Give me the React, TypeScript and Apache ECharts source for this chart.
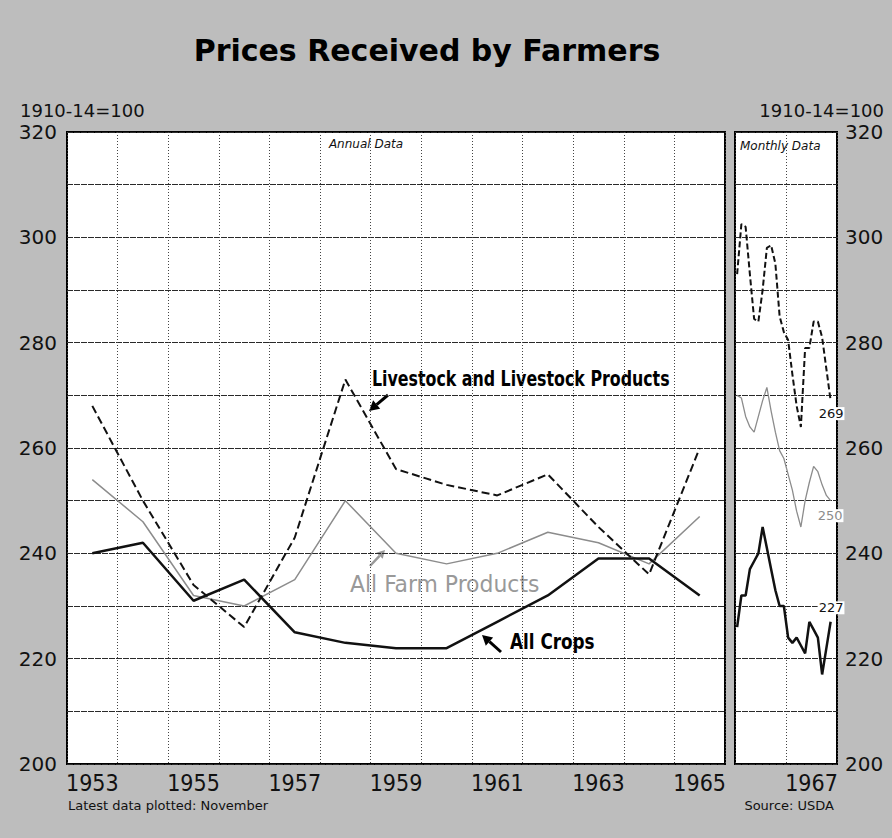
import React, { useEffect, useRef } from 'react';
import * as echarts from 'echarts';

// ---- data ----
const years = ['1953', '1954', '1955', '1956', '1957', '1958', '1959', '1960', '1961', '1962', '1963', '1964', '1965'];
const livestockAnnual = [268, 250, 234, 226, 243, 273, 256, 253, 251, 255, 245, 236, 260];
const farmAnnual = [254, 246, 232, 230, 235, 250, 240, 238, 240, 244, 242, 238, 247];
const cropsAnnual = [240, 242, 231, 235, 225, 223, 222, 222, 227, 232, 239, 239, 232];

const months = [
  '1966-01', '1966-02', '1966-03', '1966-04', '1966-05', '1966-06', '1966-07', '1966-08', '1966-09', '1966-10', '1966-11', '1966-12',
  '1967-01', '1967-02', '1967-03', '1967-04', '1967-05', '1967-06', '1967-07', '1967-08', '1967-09', '1967-10', '1967-11', '1967-12',
];
const monthYears = ['1966', '1967'];
const livestockMonthly = [293, 302.5, 302, 293, 284.5, 284, 290, 298, 298.5, 295, 285, 282, 280.5, 274, 268, 264, 279, 279, 284, 284, 281, 275, 269];
const farmMonthly = [270, 269.5, 266, 264, 263, 266, 269, 271.5, 267, 263, 259.5, 258, 255, 252, 248, 245, 250, 253.5, 256.5, 255.5, 253, 251, 250];
const cropsMonthly = [226, 232, 232, 237, 238.5, 240, 245, 241, 237, 233, 230, 230, 224, 223, 224, 222.5, 221, 227, 225.5, 224, 217, 222, 227];

const yMin = 200;
const yMax = 320;
const yStep = 10;

const TITLE = 'Prices Received by Farmers';
const BASE_NOTE = '1910-14=100';

const NARROW = '"Liberation Sans Narrow", "DejaVu Sans Condensed", "Roboto", sans-serif';
const SANS = '"DejaVu Sans", "Lato", sans-serif';

function arrow(tail: number[], tip: number[], color: string, width: number, head: number) {
  const dx = tip[0] - tail[0];
  const dy = tip[1] - tail[1];
  const len = Math.sqrt(dx * dx + dy * dy);
  const ux = dx / len;
  const uy = dy / len;
  const bx = tip[0] - ux * head;
  const by = tip[1] - uy * head;
  const px = -uy * head * 0.55;
  const py = ux * head * 0.55;
  return {
    type: 'group',
    children: [
      { type: 'line', shape: { x1: tail[0], y1: tail[1], x2: bx, y2: by }, style: { stroke: color, lineWidth: width } },
      { type: 'polygon', shape: { points: [tip, [bx + px, by + py], [bx - px, by - py]] }, style: { fill: color } },
    ],
  };
}

function endLabel(color: string, offset: number[]) {
  return {
    show: true, formatter: (p: any) => String(p.value), color, fontFamily: SANS, fontSize: 13, offset, distance: 0,
    backgroundColor: '#fff', padding: [0, 1],
  };
}

export default function App() {
  const ref = useRef<HTMLDivElement>(null);
  useEffect(() => {
    document.body.style.margin = '0';
    const chart = echarts.init(ref.current!, null, { renderer: 'svg' });
    const gridLine = { show: true, lineStyle: { color: '#2a2a2a', width: 1, type: [6, 1] } };
    const vGrid = { show: true, interval: 0, lineStyle: { color: '#444', width: 1, type: [1, 2] } };
    const yLabel = (v: number) => (v % 20 === 0 ? String(v) : '');
    const option: any = {
      animation: false,
      backgroundColor: '#bdbdbd',
      grid: [
        { left: 67, top: 132, width: 658, height: 632, show: true, backgroundColor: '#fff', borderColor: '#000', borderWidth: 2 },
        { left: 735, top: 132, width: 102, height: 632, show: true, backgroundColor: '#fff', borderColor: '#000', borderWidth: 2 },
      ],
      xAxis: [
        {
          gridIndex: 0, type: 'category', data: years, boundaryGap: true, position: 'bottom',
          axisLine: { show: false }, axisTick: { show: false },
          axisLabel: { interval: 1, fontFamily: NARROW, fontSize: 23, color: '#111', margin: 7 },
          splitLine: vGrid,
        },
        { gridIndex: 1, type: 'category', data: months, boundaryGap: true, position: 'top', show: false },
        {
          gridIndex: 1, type: 'category', data: monthYears, boundaryGap: true, position: 'bottom',
          axisLine: { show: false }, axisTick: { show: false },
          axisLabel: { interval: 0, formatter: (v: string) => (v === '1967' ? v : ''), fontFamily: NARROW, fontSize: 23, color: '#111', margin: 7 },
          splitLine: vGrid,
        },
      ],
      yAxis: [
        {
          gridIndex: 0, type: 'value', min: yMin, max: yMax, interval: yStep, position: 'left',
          axisLine: { show: false }, axisTick: { show: false },
          axisLabel: { formatter: yLabel, fontFamily: SANS, fontSize: 20, color: '#111', margin: 10 },
          splitLine: gridLine,
        },
        {
          gridIndex: 1, type: 'value', min: yMin, max: yMax, interval: yStep, position: 'right',
          axisLine: { show: false }, axisTick: { show: false },
          axisLabel: { formatter: yLabel, fontFamily: SANS, fontSize: 20, color: '#111', margin: 8 },
          splitLine: gridLine,
        },
      ],
      series: [
        { type: 'line', name: 'All Farm Products', xAxisIndex: 0, yAxisIndex: 0, data: farmAnnual, symbol: 'none', lineStyle: { color: '#8c8c8c', width: 1.5 } },
        { type: 'line', name: 'Livestock and Livestock Products', xAxisIndex: 0, yAxisIndex: 0, data: livestockAnnual, symbol: 'none', lineStyle: { color: '#111', width: 2, type: [8, 4] } },
        { type: 'line', name: 'All Crops', xAxisIndex: 0, yAxisIndex: 0, data: cropsAnnual, symbol: 'none', lineStyle: { color: '#111', width: 2.5 } },
        {
          type: 'line', name: 'All Farm Products (monthly)', xAxisIndex: 1, yAxisIndex: 1, symbol: 'none', lineStyle: { color: '#8c8c8c', width: 1.3 },
          data: farmMonthly, endLabel: endLabel('#8c8c8c', [-14, 15]),
        },
        {
          type: 'line', name: 'Livestock (monthly)', xAxisIndex: 1, yAxisIndex: 1, symbol: 'none', lineStyle: { color: '#111', width: 2, type: [6, 3] },
          data: livestockMonthly, endLabel: endLabel('#111', [-13, 13]),
        },
        {
          type: 'line', name: 'All Crops (monthly)', xAxisIndex: 1, yAxisIndex: 1, symbol: 'none', lineStyle: { color: '#111', width: 2.5 },
          data: cropsMonthly, endLabel: endLabel('#111', [-13, -14]),
        },
      ],
      graphic: [
        { type: 'text', x: 427, y: 50, style: { text: TITLE, font: `bold 30px ${SANS}`, fill: '#000', textAlign: 'center', textVerticalAlign: 'middle' } },
        { type: 'text', x: 20, y: 110, style: { text: BASE_NOTE, font: `18px ${SANS}`, fill: '#111', textAlign: 'left', textVerticalAlign: 'middle' } },
        { type: 'text', x: 884, y: 110, style: { text: BASE_NOTE, font: `18px ${SANS}`, fill: '#111', textAlign: 'right', textVerticalAlign: 'middle' } },
        { type: 'text', x: 366, y: 144, style: { text: 'Annual Data', font: `italic 12px ${SANS}`, fill: '#111', textAlign: 'center', textVerticalAlign: 'middle' } },
        { type: 'text', x: 740, y: 146, style: { text: 'Monthly Data', font: `italic 12px ${SANS}`, fill: '#111', textAlign: 'left', textVerticalAlign: 'middle' } },
        { type: 'text', x: 68, y: 805, style: { text: 'Latest data plotted: November', font: `13px ${SANS}`, fill: '#111', textAlign: 'left', textVerticalAlign: 'middle' } },
        { type: 'text', x: 834, y: 805, style: { text: 'Source: USDA', font: `13px ${SANS}`, fill: '#111', textAlign: 'right', textVerticalAlign: 'middle' } },
        { type: 'text', x: 372, y: 379, scaleX: 0.8, style: { text: 'Livestock and Livestock Products', font: `bold 22px ${NARROW}`, fill: '#000', textAlign: 'left', textVerticalAlign: 'middle' } },
        { type: 'text', x: 350, y: 584, scaleX: 1.06, style: { text: 'All Farm Products', font: `23px ${NARROW}`, fill: '#999', textAlign: 'left', textVerticalAlign: 'middle' } },
        { type: 'text', x: 510, y: 641, scaleX: 0.85, style: { text: 'All Crops', font: `bold 22px ${NARROW}`, fill: '#000', textAlign: 'left', textVerticalAlign: 'middle' } },
        arrow([388, 395], [369, 411], '#000', 3, 10),
        arrow([370, 566], [385, 550], '#999', 2.5, 8),
        arrow([501, 652], [482, 635], '#000', 3, 10),
      ],
    };
    chart.setOption(option);
    return () => chart.dispose();
  }, []);
  return <div ref={ref} style={{ position: 'fixed', left: 0, top: 0, width: 892, height: 838 }} />;
}
